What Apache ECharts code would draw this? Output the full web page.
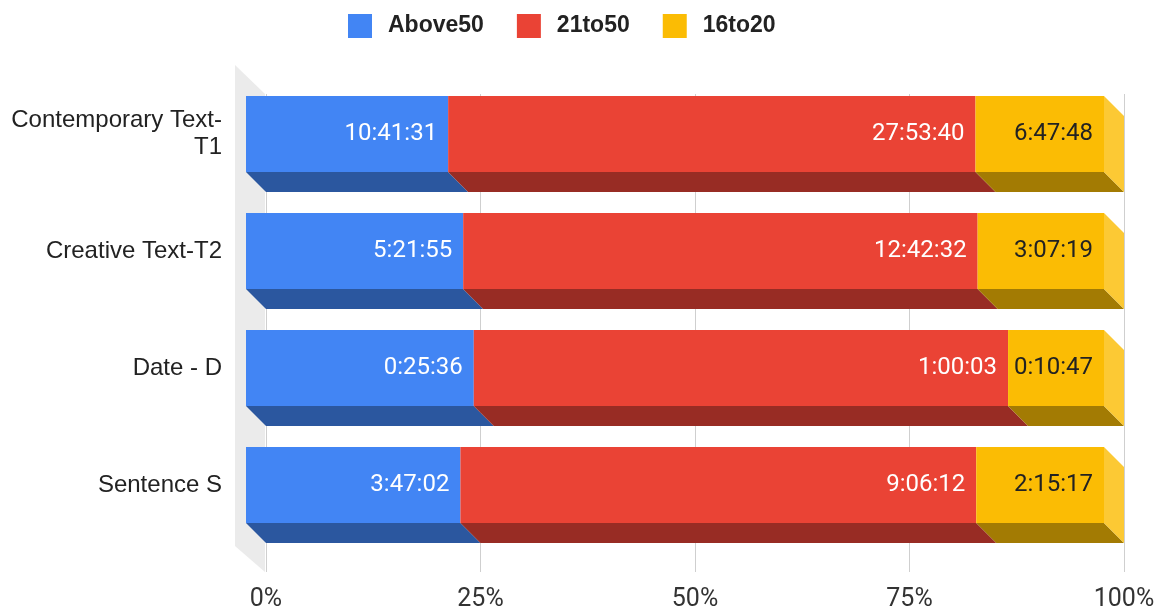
<!DOCTYPE html>
<html>
<head>
<meta charset="utf-8">
<script src="https://cdn.jsdelivr.net/npm/echarts@6/dist/echarts.min.js"></script>
<style>
  html, body { margin: 0; padding: 0; background: #fff; }
  #chart { width: 1165px; height: 612px; }
</style>
</head>
<body>
<div id="chart"></div>
<script>
// Time spent per text type, split by age group (h:mm:ss)
const categories = ['Contemporary Text-T1', 'Creative Text-T2', 'Date - D', 'Sentence S'];
const seriesNames = ['Above50', '21to50', '16to20'];
const above50 = ['10:41:31', '5:21:55', '0:25:36', '3:47:02'];
const age21to50 = ['27:53:40', '12:42:32', '1:00:03', '9:06:12'];
const age16to20 = ['6:47:48', '3:07:19', '0:10:47', '2:15:17'];
const percentTicks = [0, 25, 50, 75, 100];

const durations = [above50, age21to50, age16to20];
const frontColors = ['#4285F4', '#EA4335', '#FBBC04'];
const floorColors = ['#2B579F', '#982C24', '#A37B03'];
const sideColor = '#FCC934';
const labelColors = ['#ffffff', '#ffffff', '#222222'];

const DEPTH = 20;      // 3D offset of the back plane, px
const BAR_W = 76;      // bar thickness, px

function toSeconds(s) {
  const p = s.split(':').map(Number);
  return p[0] * 3600 + p[1] * 60 + p[2];
}

// Each row is normalised to 100%
const totals = categories.map((_, i) =>
  durations.reduce((acc, arr) => acc + toSeconds(arr[i]), 0));
const percents = durations.map(arr =>
  arr.map((v, i) => toSeconds(v) / totals[i] * 100));

// Segment extents for the bottom and side faces
const faceData = [];
categories.forEach((_, i) => {
  let start = 0;
  percents.forEach((arr, s) => {
    const end = start + arr[i];
    faceData.push([i, start, end, s, s === percents.length - 1 ? 1 : 0]);
    start = end;
  });
});

// Wrap long category names after their last hyphen
const measureCtx = document.createElement('canvas').getContext('2d');
measureCtx.font = '24px "Liberation Sans", Arial, sans-serif';
function wrapLabel(v) {
  if (measureCtx.measureText(v).width <= 215) return v;
  const k = v.lastIndexOf('-');
  return k > 0 ? v.slice(0, k + 1) + '\n' + v.slice(k + 1) : v;
}

const chart = echarts.init(document.getElementById('chart'), null, { renderer: 'canvas' });

const barSeries = seriesNames.map((name, s) => ({
  name: name,
  type: 'bar',
  stack: 'total',
  xAxisIndex: 0,
  yAxisIndex: 0,
  barWidth: BAR_W,
  z: 5,
  itemStyle: { color: frontColors[s] },
  emphasis: { disabled: true },
  label: {
    show: true,
    position: 'insideRight',
    distance: 11,
    color: labelColors[s],
    fontFamily: 'Roboto, sans-serif',
    fontSize: 24,
    formatter: p => durations[s][p.dataIndex]
  },
  data: percents[s]
}));

const option = {
  animation: false,
  backgroundColor: '#ffffff',
  legend: {
    data: seriesNames,
    left: 343,
    top: 9,
    itemWidth: 24,
    itemHeight: 24,
    itemGap: 33,
    icon: 'rect',
    textStyle: {
      fontFamily: '"Liberation Sans", Arial, sans-serif',
      fontWeight: 'bold',
      fontSize: 23,
      color: '#222',
      padding: [0, 0, 0, 11]
    }
  },
  grid: [
    // front plane of the bars
    { left: 246, right: 61, top: 75.5, height: 468, containLabel: false },
    // back plane carrying the gridlines and percent labels
    { left: 266, right: 41, top: 94, height: 479, containLabel: false }
  ],
  xAxis: [
    { type: 'value', gridIndex: 0, min: 0, max: 100, show: false },
    {
      type: 'value', gridIndex: 1, min: 0, max: 100, interval: 25,
      axisLine: { show: false },
      axisTick: { show: false },
      splitLine: { show: true, lineStyle: { color: '#cfcfcf', width: 1 } },
      axisLabel: {
        margin: 15,
        color: '#333',
        fontFamily: 'Roboto, sans-serif',
        fontSize: 25,
        formatter: v => (percentTicks.indexOf(v) >= 0 ? v + '%' : '')
      }
    }
  ],
  yAxis: [
    {
      type: 'category', gridIndex: 0, data: categories, inverse: true,
      axisLine: { show: false },
      axisTick: { show: false },
      splitLine: { show: false },
      axisLabel: {
        margin: 24,
        color: '#222',
        fontFamily: '"Liberation Sans", Arial, sans-serif',
        fontSize: 24,
        lineHeight: 27,
        formatter: wrapLabel
      }
    },
    { type: 'value', gridIndex: 1, min: 0, max: 1, show: false }
  ],
  series: [
    // left wall of the 3D box
    {
      type: 'custom',
      xAxisIndex: 1,
      yAxisIndex: 1,
      silent: true,
      z: 1,
      data: [[0, 0]],
      renderItem: function (params) {
        const cs = params.coordSys;
        const x = cs.x - 1, y = cs.y, h = cs.height;
        return {
          type: 'polygon',
          shape: { points: [[x - 30, y - 29], [x, y], [x, y + h], [x - 30, y + h - 26]] },
          style: { fill: '#ebebeb' }
        };
      }
    },
    // bottom faces of every segment and right face of the last one
    {
      type: 'custom',
      xAxisIndex: 0,
      yAxisIndex: 0,
      silent: true,
      z: 4,
      encode: { x: [1, 2], y: 0 },
      data: faceData,
      renderItem: function (params, api) {
        const cat = api.value(0);
        const p0 = api.coord([api.value(1), cat]);
        const p1 = api.coord([api.value(2), cat]);
        const seg = api.value(3);
        const top = p0[1] - BAR_W / 2;
        const bottom = p0[1] + BAR_W / 2;
        const x0 = p0[0], x1 = p1[0];
        const children = [{
          type: 'polygon',
          shape: { points: [[x0, bottom], [x1, bottom], [x1 + DEPTH, bottom + DEPTH], [x0 + DEPTH, bottom + DEPTH]] },
          style: { fill: floorColors[seg] }
        }];
        if (api.value(4) === 1) {
          children.push({
            type: 'polygon',
            shape: { points: [[x1, top], [x1 + DEPTH, top + DEPTH], [x1 + DEPTH, bottom + DEPTH], [x1, bottom]] },
            style: { fill: sideColor }
          });
        }
        return { type: 'group', children: children };
      }
    }
  ].concat(barSeries)
};

chart.setOption(option);
</script>
</body>
</html>
